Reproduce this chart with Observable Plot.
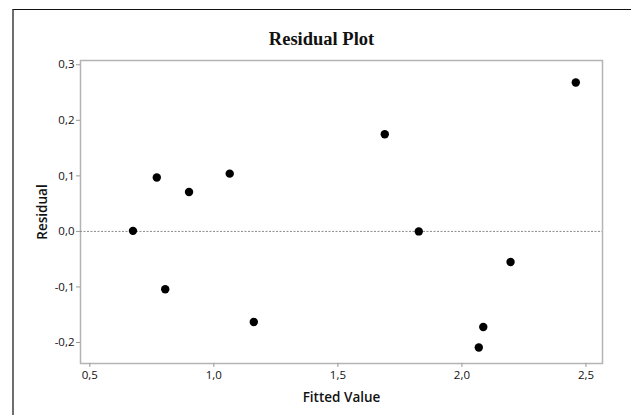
<!DOCTYPE html>
<html>
<head>
<meta charset="utf-8">
<script src="https://cdn.jsdelivr.net/npm/d3@7"></script>
<script src="https://cdn.jsdelivr.net/npm/@observablehq/plot@0.6"></script>
<style>
  html, body { margin: 0; padding: 0; background: #fff; }
  #wrap { position: relative; width: 631px; height: 415px; overflow: hidden; }
  #outer { position: absolute; left: 12px; top: 9px; right: -2px; bottom: -2px;
           border-left: 2px solid #6e6e6e; border-top: 1px solid #111; }
  #chart { position: absolute; left: 0; top: 0; }
</style>
</head>
<body>
<div id="wrap"><div id="outer"></div><div id="chart"></div></div>
<script>
const title = "Residual Plot";
const xLabel = "Fitted Value";
const yLabel = "Residual";
const fitted = [0.674, 0.770, 0.804, 0.900, 1.064, 1.161, 1.689, 1.826, 2.068, 2.086, 2.196, 2.459];
const residual = [0.001, 0.097, -0.104, 0.071, 0.104, -0.163, 0.175, 0.000, -0.209, -0.172, -0.055, 0.268];
const xTicks = [0.5, 1.0, 1.5, 2.0, 2.5];
const yTicks = [-0.2, -0.1, 0.0, 0.1, 0.2, 0.3];

const data = fitted.map((x, i) => ({x, y: residual[i]}));
const fmt = d => d3.format(".1f")(d).replace("−", "-").replace(".", ",");
const sans = "'Open Sans', 'Noto Sans', sans-serif";

const chart = Plot.plot({
  width: 631,
  height: 415,
  marginLeft: 80,
  marginRight: 29,
  marginTop: 60,
  marginBottom: 52,
  style: { fontFamily: sans, fontSize: "11.5px", color: "#111", background: "transparent" },
  x: { domain: [0.4625, 2.5666] },
  y: { domain: [-0.2378, 0.3077] },
  marks: [
    Plot.frame({ stroke: "#b4b4b4", strokeWidth: 1.5 }),
    Plot.ruleY([0], { stroke: "#8a8a8a", strokeDasharray: "2,1.5", strokeWidth: 1 }),
    Plot.axisX({ ticks: xTicks, tickFormat: fmt, tickSize: 4, stroke: "#999", tickPadding: 3,
                 label: xLabel, labelAnchor: "center", labelArrow: "none", labelOffset: 38,
                 fontSize: 11.5 }),
    Plot.axisY({ ticks: yTicks, tickFormat: fmt, tickSize: 4, stroke: "#999", tickPadding: 2,
                 label: yLabel, labelAnchor: "center", labelArrow: "none", labelOffset: 43,
                 fontSize: 11.5 }),
    Plot.dot(data, { x: "x", y: "y", r: 4.2, fill: "#000", stroke: "none" }),
    Plot.text([title], { frameAnchor: "top", dy: -29, dx: -20, fontFamily: "'Liberation Serif', 'Times New Roman', serif",
                         fontWeight: "bold", fontSize: 18.5, fill: "#111" })
  ]
});
chart.querySelectorAll("g[aria-label='x-axis label'] text, g[aria-label='y-axis label'] text").forEach(t => {
  t.setAttribute("font-size", "13.5");
  t.setAttribute("font-weight", "600");
});
document.getElementById("chart").appendChild(chart);
</script>
</body>
</html>
